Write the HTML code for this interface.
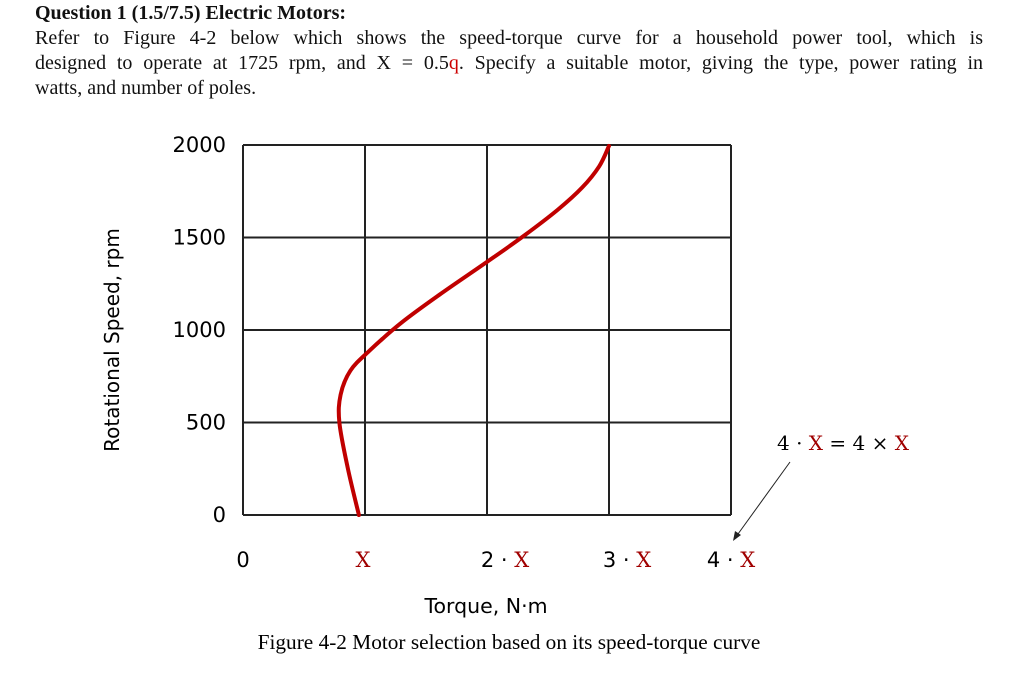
<!DOCTYPE html>
<html><head><meta charset="utf-8"><style>
body{margin:0;background:#fff;width:1018px;height:684px;overflow:hidden;position:relative;font-family:"Liberation Serif",serif;color:#111}
.ln{position:absolute;left:35px;width:948px;font-size:20px;white-space:nowrap}
.j{text-align:justify;text-align-last:justify;white-space:normal}
</style></head><body>
<div class="ln" style="top:2px;font-weight:bold">Question 1 (1.5/7.5) Electric Motors:</div>
<div class="ln j" style="top:27px">Refer to Figure 4-2 below which shows the speed-torque curve for a household power tool, which is</div>
<div class="ln j" style="top:52px">designed to operate at 1725 rpm, and X = 0.5<span style="color:#c00">q</span>. Specify a suitable motor, giving the type, power rating in</div>
<div class="ln" style="top:77px">watts, and number of poles.</div>
<svg width="1018" height="684" style="position:absolute;left:0;top:0">
<g id="grid"></g><path id="curve" fill="none" stroke="#c00000" stroke-width="4" stroke-linecap="round"></path>
<g id="labels" font-family="DejaVu Sans, sans-serif" font-size="21"></g>
<text x="119" y="340" transform="rotate(-90 119 340)" text-anchor="middle" font-family="DejaVu Sans, sans-serif" font-size="20">Rotational Speed, rpm</text>
<text x="486" y="613" text-anchor="middle" font-family="DejaVu Sans, sans-serif" font-size="20.5">Torque, N·m</text>
<text x="509" y="649" text-anchor="middle" font-family="Liberation Serif, serif" font-size="21.3">Figure 4-2 Motor selection based on its speed-torque curve</text>
<text x="777" y="450" font-family="DejaVu Serif, serif" font-size="20">4 · <tspan fill="#a00000">X</tspan> = 4 × <tspan fill="#a00000">X</tspan></text>
<line x1="790" y1="462" x2="738" y2="534" stroke="#222" stroke-width="1"/>
<polygon points="733,541 735,531 741,535" fill="#222"/>
</svg>
<script>
const yTicks=[0,500,1000,1500,2000];
const xTicks=[0,1,2,3,4];
const xTickLabels=["0","X","2 · X","3 · X","4 · X"];
const torque=[0.95,0.86,0.79,0.80,0.88,1.04,1.30,1.62,2.0,2.30,2.58,2.78,2.92,3.0];
const speed=[0,250,500,650,780,890,1040,1195,1368,1508,1650,1770,1885,1995];
const X0=243,X1=731,Y0=515,Y1=145;
const sx=v=>X0+(X1-X0)*v/4, sy=v=>Y0-(Y0-Y1)*v/2000;
const ns="http://www.w3.org/2000/svg";
const g=document.getElementById('grid'),L=document.getElementById('labels');
function mk(t,a,p){const e=document.createElementNS(ns,t);for(const k in a)e.setAttribute(k,a[k]);p.appendChild(e);return e;}
yTicks.forEach(v=>{const l=mk('line',{x1:X0,x2:X1,y1:sy(v),y2:sy(v),stroke:'#222','stroke-width':2},g);


const t=mk('text',{x:226,y:sy(v)+7,'text-anchor':'end'},L);t.textContent=v;

});
xTicks.forEach((v,i)=>{const l=mk('line',{x1:sx(v),x2:sx(v),y1:Y1,y2:Y0,stroke:'#222','stroke-width':2},g);


const t=mk('text',{x:sx(v)+(i>=2?(i==4?0:18):(i==1?-2:0)),y:567,'text-anchor':'middle'},L);
const s=xTickLabels[i];
if(s.includes('X')){const p=s.replace('X','');if(p){const a=mk('tspan',{},t);a.textContent=p;}const b=mk('tspan',{fill:'#a00000','font-family':'DejaVu Serif, serif'},t);b.textContent='X';}else t.textContent=s;

});
const P=torque.map((v,i)=>[sx(v),sy(speed[i])]);
let d='M'+P[0][0]+','+P[0][1];
for(let i=0;i<P.length-1;i++){const p0=P[i-1]||P[i],p1=P[i],p2=P[i+1],p3=P[i+2]||P[i+1];
d+=` C${p1[0]+(p2[0]-p0[0])/6},${p1[1]+(p2[1]-p0[1])/6} ${p2[0]-(p3[0]-p1[0])/6},${p2[1]-(p3[1]-p1[1])/6} ${p2[0]},${p2[1]}`;}
const c=document.getElementById('curve');c.setAttribute('d',d);


</script>
</body></html>
